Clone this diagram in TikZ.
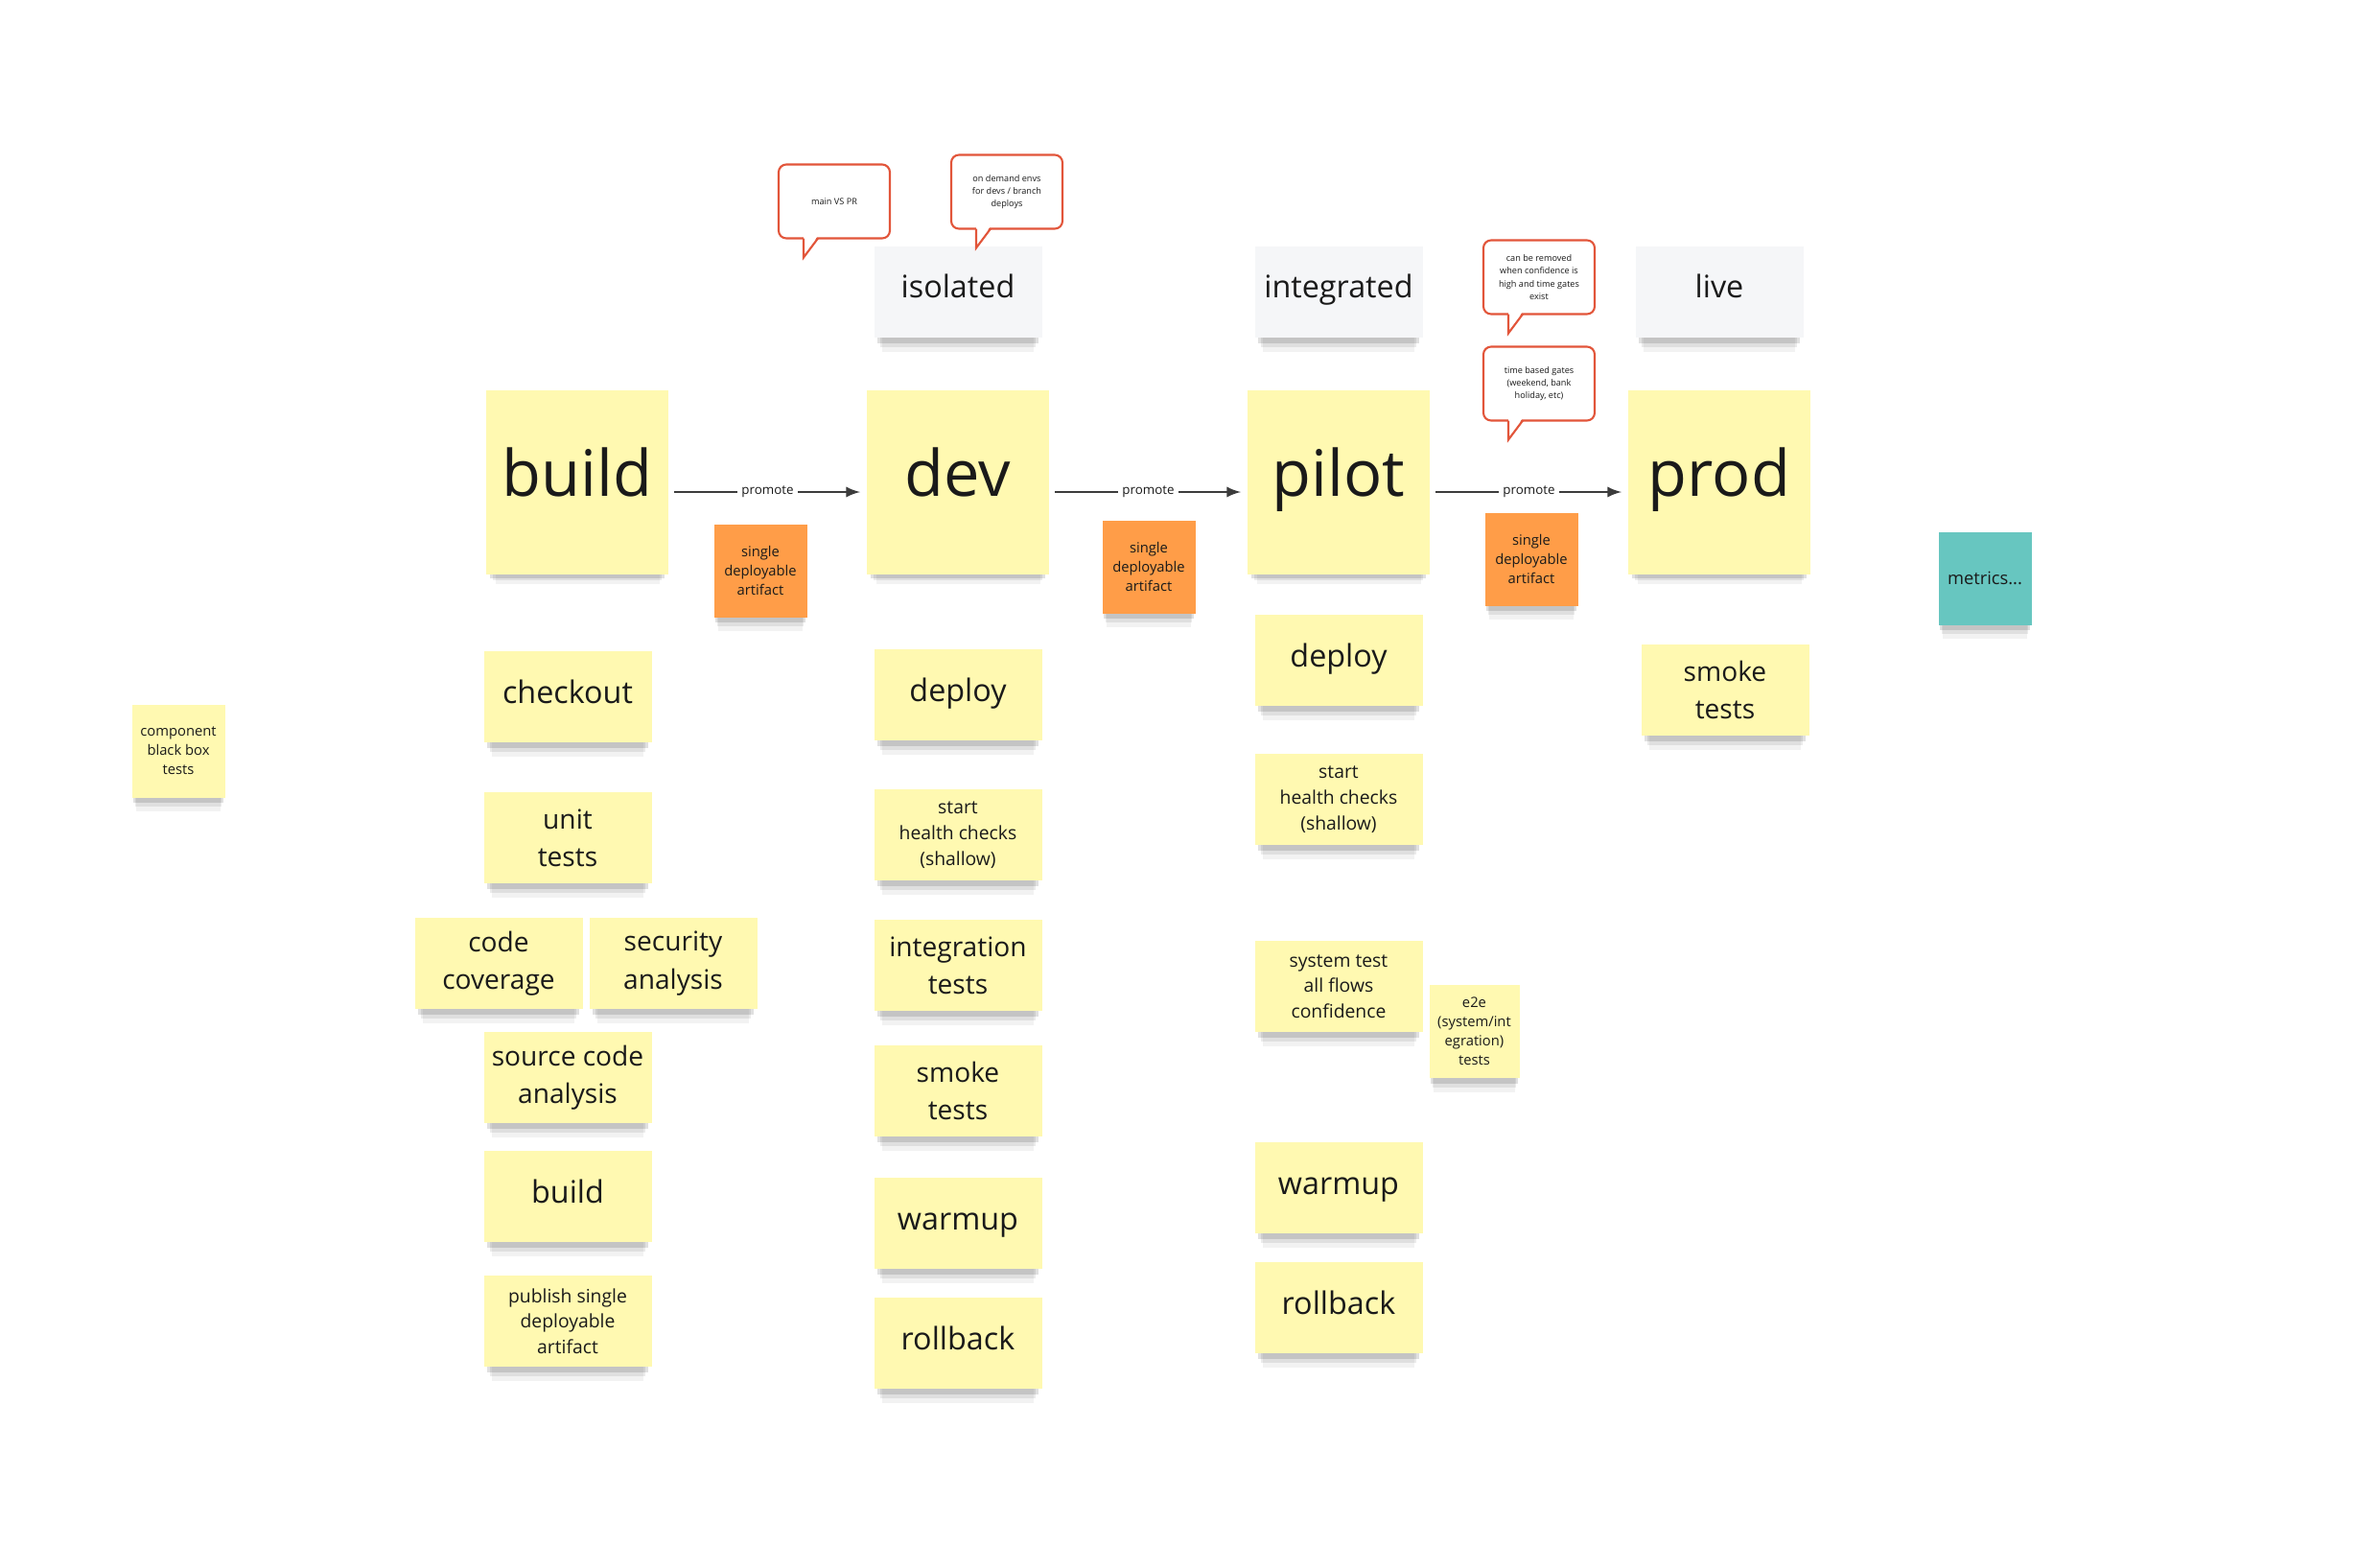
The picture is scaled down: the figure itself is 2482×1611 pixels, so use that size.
\documentclass[tikz,border=0pt]{standalone}
\usepackage{fontspec}
\setmainfont{Open Sans}
\usetikzlibrary{arrows,positioning,shadows}
\definecolor{stickyyellow}{HTML}{FFF9B1}
\definecolor{stickyorange}{HTML}{FF9D48}
\definecolor{stickyteal}{HTML}{67C6C0}
\definecolor{stickygray}{HTML}{F5F6F8}
\definecolor{calloutred}{HTML}{E2553A}
\definecolor{ink}{HTML}{1A1A1A}

\begin{document}
\begin{tikzpicture}[x=0.1mm, y=-0.1mm, >=latex, node distance=39.7mm]
		\tikzstyle{note} = [fill=stickyyellow, text=ink, align=center, inner sep=0pt, outer sep=0pt,
			minimum width=17.5mm, minimum height=9.5mm,
			general shadow={fill=black, opacity=.05, shadow yshift=-2.2mm, shadow scale=.9},
			general shadow={fill=black, opacity=.08, shadow yshift=-1.4mm, shadow scale=.93},
			general shadow={fill=black, opacity=.12, shadow yshift=-.8mm, shadow scale=.96}]
		\tikzstyle{stage} = [note, minimum width=19mm, minimum height=19.2mm, text height=14pt, text depth=5.5pt,
			font=\fontsize{19}{23}\selectfont]
		\tikzstyle{head} = [note, fill=stickygray, text height=7pt, text depth=3.6pt, font=\fontsize{9.2}{12}\selectfont]
		\tikzstyle{word} = [note, text height=7pt, text depth=3pt, font=\fontsize{9.2}{12}\selectfont]
		\tikzstyle{twoline} = [note, font=\fontsize{8}{11.2}\selectfont]
		\tikzstyle{threeline} = [note, font=\fontsize{5.5}{7.6}\selectfont]
		\tikzstyle{square} = [note, minimum width=9.7mm, minimum height=9.7mm, font=\fontsize{4.2}{5.7}\selectfont]
		\tikzstyle{artifact} = [square, fill=stickyorange]
		\tikzstyle{metric} = [square, fill=stickyteal, font=\fontsize{5.2}{7}\selectfont]
		\tikzstyle{callout} = [draw=calloutred, line width=.6pt, fill=white, rounded corners=.8mm, text=ink, align=center,
			inner sep=0pt, outer sep=0pt, minimum width=11.6mm, minimum height=7.7mm, font=\fontsize{2.6}{3.8}\selectfont]
		\tikzstyle{flow} = [->, color=ink!85, line width=.45pt, shorten <=.6mm, shorten >=.7mm]
		\tikzstyle{promote} = [fill=white, inner sep=.4mm, text=ink, font=\fontsize{3.8}{4.5}\selectfont]

		\useasboundingbox (0,0) rectangle (2482,1611);

		\node [stage] (build) at (602,503)             {build};
		\node [stage] (dev)   [right of = build]       {dev};
		\node [stage] (pilot) [right of = dev]         {pilot};
		\node [stage] (prod)  [right of = pilot]       {prod};

		\node [head] (isolated)   [above=5.5mm of dev]   {isolated};
		\node [head] (integrated) [above=5.5mm of pilot] {integrated};
		\node [head] (live)       [above=5.5mm of prod]  {live};

		\path [flow] ([yshift=-1mm]build.east) edge node [promote] {promote} ([yshift=-1mm]dev.west)
			([yshift=-1mm]dev.east) edge node [promote] {promote} ([yshift=-1mm]pilot.west)
			([yshift=-1mm]pilot.east) edge node [promote] {promote} ([yshift=-1mm]prod.west);

		\node [artifact] (artifactA) at (793,595)  {single\\deployable\\artifact};
		\node [artifact] (artifactB) at (1198,591) {single\\deployable\\artifact};
		\node [artifact] (artifactC) at (1597,583) {single\\deployable\\artifact};
		\node [metric]   (metrics)   at (2070,603) {metrics...};
		\node [square]   (blackbox)  at (186,783)  {component\\black box\\tests};

		\node [callout] (mainpr)    at (870,210)  {main VS PR};
		\node [callout] (ondemand)  at (1050,200) {on demand envs\\for devs / branch\\deploys};
		\node [callout] (removable) at (1605,289) {can be removed\\when confidence is\\high and time gates\\exist};
		\node [callout] (timegates) at (1605,400) {time based gates\\(weekend, bank\\holiday, etc)};
		\foreach \c in {mainpr, ondemand, removable, timegates} {
			\fill [white] ([xshift=2.6mm, yshift=.3mm]\c.south west) -- ([xshift=2.6mm, yshift=-2mm]\c.south west)
				-- ([xshift=4.1mm, yshift=.3mm]\c.south west) -- cycle;
			\draw [calloutred, line width=.6pt] ([xshift=2.6mm]\c.south west) -- ([xshift=2.6mm, yshift=-2mm]\c.south west)
				-- ([xshift=4.1mm]\c.south west);
		}

		\node [word]      (checkout)   [below=8mm of build, xshift=-1mm]   {checkout};
		\node [twoline]   (unittests)  [below=5.2mm of checkout]           {unit\\tests};
		\node [twoline]   (coverage)   [below=3.6mm of unittests, xshift=-7.2mm] {code\\coverage};
		\node [twoline]   (security)   [right=.7mm of coverage]            {security\\analysis};
		\node [twoline]   (sourcecode) [below=2.4mm of coverage, xshift=7.2mm] {source code\\analysis};
		\node [word]      (buildstep)  [below=2.9mm of sourcecode]         {build};
		\node [threeline] (publish)    [below=3.5mm of buildstep]          {publish single\\deployable\\artifact};

		\node [word]      (devdeploy)   [below=7.8mm of dev]         {deploy};
		\node [threeline] (devhealth)   [below=5.1mm of devdeploy]   {start\\health checks\\(shallow)};
		\node [twoline]   (devinteg)    [below=4.1mm of devhealth]   {integration\\tests};
		\node [twoline]   (devsmoke)    [below=3.6mm of devinteg]    {smoke\\tests};
		\node [word]      (devwarmup)   [below=4.3mm of devsmoke]    {warmup};
		\node [word]      (devrollback) [below=3mm of devwarmup]     {rollback};

		\node [word]      (pilotdeploy)   [below=4.2mm of pilot]          {deploy};
		\node [threeline] (pilothealth)   [below=5mm of pilotdeploy]      {start\\health checks\\(shallow)};
		\node [threeline] (systemtest)    [below=10mm of pilothealth]     {system test\\all flows\\confidence};
		\node [square, minimum width=9.4mm] (e2e) [right=.7mm of systemtest, yshift=-4.7mm] {e2e\\(system/int\\egration)\\tests};
		\node [word]      (pilotwarmup)   [below=11.5mm of systemtest]    {warmup};
		\node [word]      (pilotrollback) [below=3mm of pilotwarmup]      {rollback};

		\node [twoline]   (prodsmoke)     [below=7.3mm of prod, xshift=.6mm] {smoke\\tests};
	\end{tikzpicture}
\end{document}
